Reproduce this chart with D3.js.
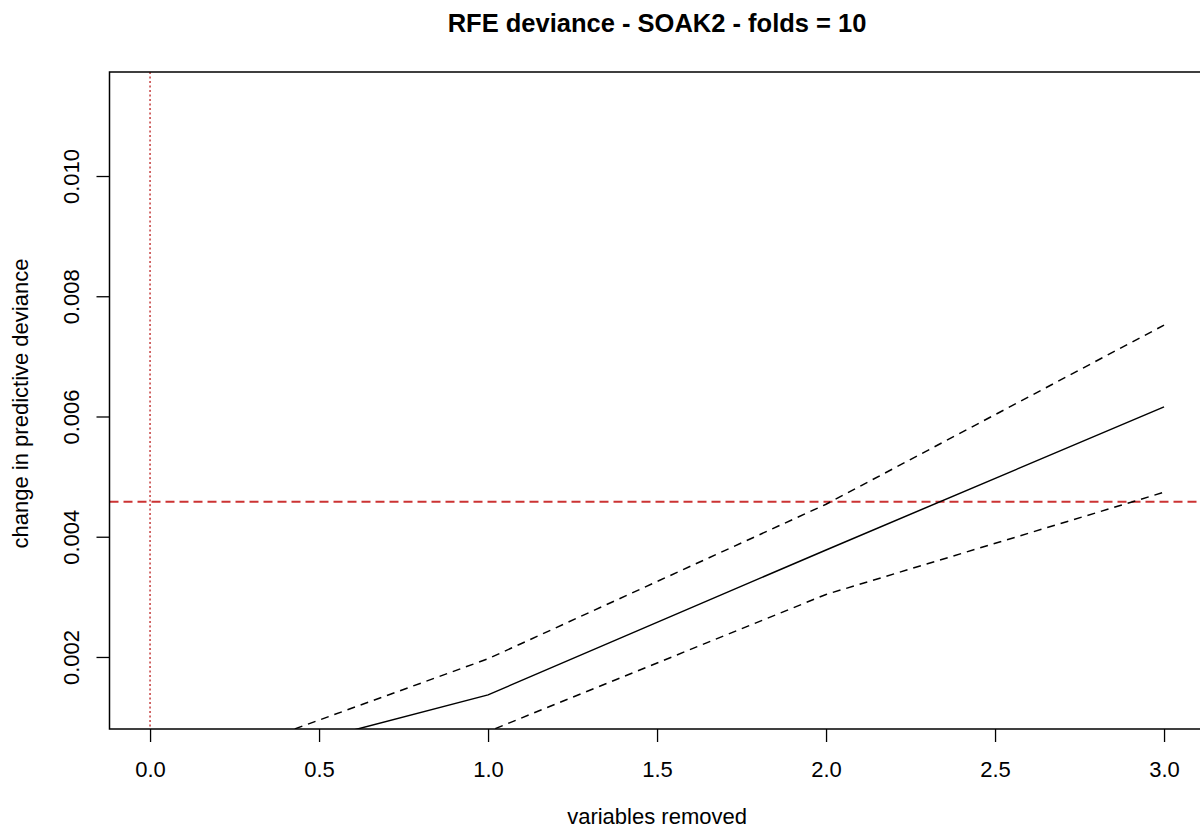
<html>
<head>
<style>
  body { margin: 0; background: #fff; font-family: "Liberation Sans", Arial, sans-serif; }
  .axis line { fill: none; stroke: #000; stroke-width: 1.3px; }
  .axis text { font-size: 22px; fill: #000; font-family: "Liberation Sans", Arial, sans-serif; }
</style>
</head>
<body>
<script src="https://cdn.jsdelivr.net/npm/d3@7"></script>
<script>
// values
var removed = [0, 1, 2, 3];
var meanDev = [-0.0001, 0.00137, 0.00378, 0.00616];
var upperDev = [-0.00007, 0.00197, 0.00454, 0.00752];
var lowerDev = [-0.00013, 0.00076, 0.00304, 0.00474];
var xTicks = [0, 0.5, 1, 1.5, 2, 2.5, 3];
var yTicks = [0.002, 0.004, 0.006, 0.008, 0.010];
var cutoff = 0.00458;

var W = 1200, H = 830;
var pLeft = 109.5, pRight = 1204.6, pTop = 72, pBottom = 729;

var svg = d3.select("body").append("svg")
    .attr("width", W)
    .attr("height", H);

var x = d3.scaleLinear().domain([-0.12, 3.12]).range([pLeft, pRight]);
var y = d3.scaleLinear().domain([0.000802, 0.01173]).range([pBottom, pTop]);

svg.append("clipPath").attr("id", "clip")
  .append("rect")
    .attr("x", pLeft).attr("y", pTop)
    .attr("width", pRight - pLeft).attr("height", pBottom - pTop);

var plot = svg.append("g").attr("clip-path", "url(#clip)");

// reference lines
plot.append("line")
    .attr("x1", x(0)).attr("x2", x(0))
    .attr("y1", pTop).attr("y2", pBottom)
    .attr("stroke", "#c43c3c").attr("stroke-width", 1.5)
    .attr("stroke-dasharray", "2,2.5");
plot.append("line")
    .attr("x1", pLeft).attr("x2", pRight)
    .attr("y1", y(cutoff)).attr("y2", y(cutoff))
    .attr("stroke", "#cc3333").attr("stroke-width", 2)
    .attr("stroke-dasharray", "9,5");

var line = d3.line()
    .x(function(d, i) { return x(removed[i]); })
    .y(function(d) { return y(d); });

plot.append("path").datum(meanDev)
    .attr("d", line).attr("fill", "none")
    .attr("stroke", "#000").attr("stroke-width", 1.5);
[upperDev, lowerDev].forEach(function(s) {
  plot.append("path").datum(s)
      .attr("d", line).attr("fill", "none")
      .attr("stroke", "#000").attr("stroke-width", 1.5)
      .attr("stroke-dasharray", "8,6");
});

// box
svg.append("rect")
    .attr("x", pLeft).attr("y", pTop)
    .attr("width", pRight - pLeft).attr("height", pBottom - pTop)
    .attr("fill", "none").attr("stroke", "#000").attr("stroke-width", 1.5);

// axes
var xAxis = svg.append("g").attr("class", "axis")
    .attr("transform", "translate(0," + pBottom + ")")
    .call(d3.axisBottom(x).tickValues(xTicks).tickSize(13).tickPadding(19)
      .tickFormat(d3.format(".1f")));
xAxis.select(".domain").remove();

var yAxis = svg.append("g").attr("class", "axis")
    .attr("transform", "translate(" + pLeft + ",0)")
    .call(d3.axisLeft(y).tickValues(yTicks).tickSize(13).tickFormat(d3.format(".3f")));
yAxis.select(".domain").remove();
yAxis.selectAll("text")
    .attr("x", 0).attr("y", 0).attr("dy", "0.35em")
    .attr("text-anchor", "middle")
    .attr("transform", "translate(-38,0) rotate(-90)");

// titles
svg.append("text")
    .attr("x", (pLeft + pRight) / 2).attr("y", 32)
    .attr("text-anchor", "middle")
    .style("font-size", "25.5px").style("font-weight", "bold")
    .text("RFE deviance - SOAK2 - folds = 10");

svg.append("text")
    .attr("x", (pLeft + pRight) / 2).attr("y", 824)
    .attr("text-anchor", "middle")
    .style("font-size", "22px")
    .text("variables removed");

svg.append("text")
    .attr("transform", "translate(28," + ((pTop + pBottom) / 2 + 3) + ") rotate(-90)")
    .attr("text-anchor", "middle")
    .style("font-size", "22px")
    .text("change in predictive deviance");
</script>
</body>
</html>
